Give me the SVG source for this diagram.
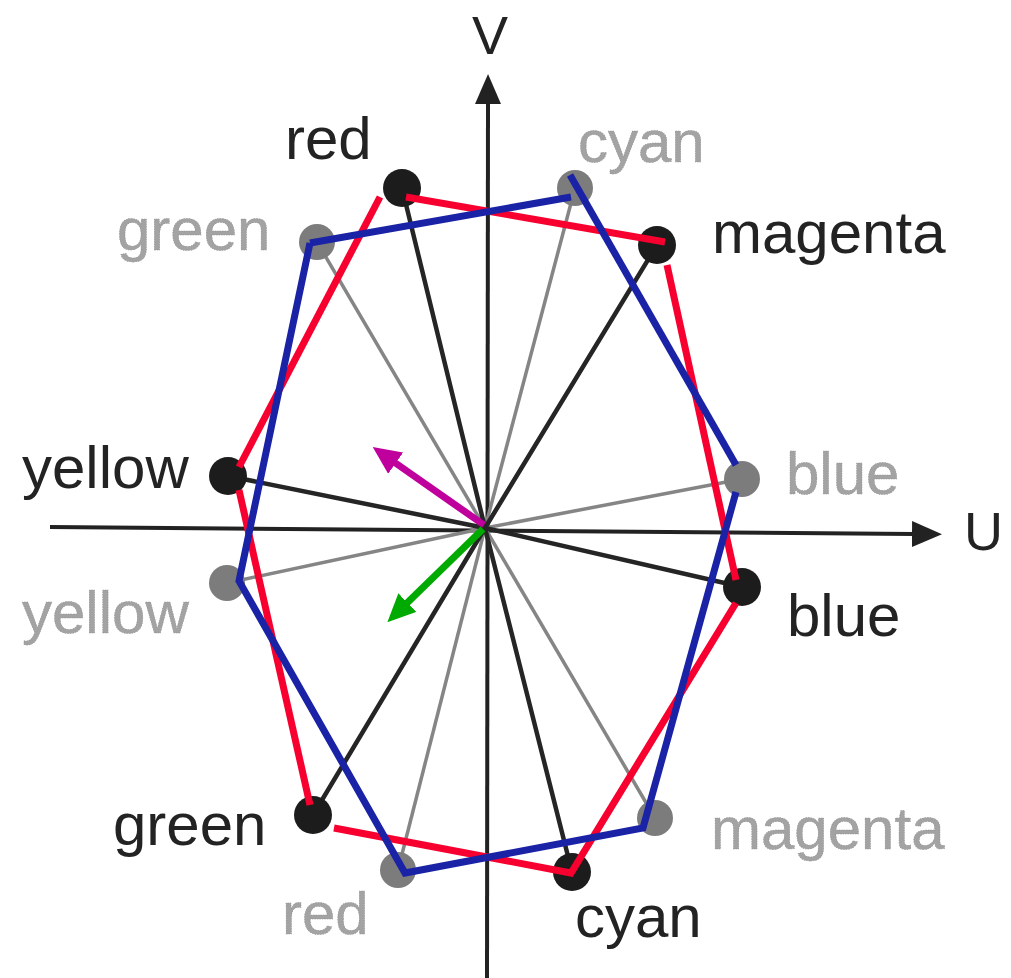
<svg xmlns="http://www.w3.org/2000/svg" width="1011" height="978" viewBox="0 0 1011 978">
<style>
.lbl{font-family:"Liberation Sans",Arial,sans-serif;font-size:60px;fill:#232323}
.glbl{font-family:"Liberation Sans",Arial,sans-serif;font-size:60px;fill:#a3a3a3;stroke:#8a8a8a;stroke-width:0.5;stroke-dasharray:1.5 1}
.axlbl{font-family:"Liberation Sans",Arial,sans-serif;font-size:54px;fill:#232323}
.axis{stroke:#222;stroke-width:4;fill:none}
.spk{stroke:#252525;stroke-width:4.5;stroke-linecap:round}
.gspk{stroke:#858585;stroke-width:3.5}
.bdot{fill:#1c1c1c}
.gdot{fill:#7c7c7c}
.rl{stroke:#f7002f;stroke-width:7;fill:none}
.bl{stroke:#1a22a6;stroke-width:7;fill:none;stroke-linejoin:miter}
</style>
<defs>
<marker id="axhead" markerUnits="userSpaceOnUse" markerWidth="30" markerHeight="26" refX="2" refY="13" orient="auto" viewBox="0 0 30 26">
<path d="M0,0 L30,13 L0,26 z" fill="#222"/>
</marker>
<marker id="mhead" markerUnits="userSpaceOnUse" markerWidth="28" markerHeight="26" refX="2" refY="13" orient="auto" viewBox="0 0 28 26">
<path d="M0,0 L28,13 L0,26 z" fill="#c0009c"/>
</marker>
<marker id="ghead" markerUnits="userSpaceOnUse" markerWidth="28" markerHeight="26" refX="2" refY="13" orient="auto" viewBox="0 0 28 26">
<path d="M0,0 L28,13 L0,26 z" fill="#00aa00"/>
</marker>
</defs>
<rect width="1011" height="978" fill="#fff"/>
<g id="axes">
<line class="axis" x1="487" y1="978" x2="488" y2="102" marker-end="url(#axhead)"/>
<line class="axis" x1="50" y1="527" x2="914" y2="534" marker-end="url(#axhead)"/>
<text class="axlbl" x="472" y="54">V</text>
<text class="axlbl" x="964" y="550">U</text>
</g>
<g id="connectors">
<line class="gspk" x1="485" y1="528" x2="575" y2="188"/>
<line class="gspk" x1="485" y1="528" x2="317" y2="242"/>
<line class="gspk" x1="485" y1="528" x2="742" y2="479"/>
<line class="gspk" x1="485" y1="528" x2="227" y2="583"/>
<line class="gspk" x1="485" y1="528" x2="655" y2="818"/>
<line class="gspk" x1="485" y1="528" x2="398" y2="870"/>
<line class="spk" x1="485" y1="528" x2="402" y2="188"/>
<line class="spk" x1="485" y1="528" x2="657" y2="245"/>
<line class="spk" x1="485" y1="528" x2="742" y2="587"/>
<line class="spk" x1="485" y1="528" x2="572" y2="872"/>
<line class="spk" x1="485" y1="528" x2="313" y2="815"/>
<line class="spk" x1="485" y1="528" x2="228" y2="476"/>
</g>
<g id="gray-nodes">
<g id="n-cyan-gray"><circle class="gdot" cx="575" cy="188" r="18"/><text class="glbl" x="578" y="162">cyan</text></g>
<g id="n-green-gray"><circle class="gdot" cx="317" cy="242" r="18"/><text class="glbl" x="117" y="250">green</text></g>
<g id="n-blue-gray"><circle class="gdot" cx="742" cy="479" r="18"/><text class="glbl" x="786" y="494">blue</text></g>
<g id="n-yellow-gray"><circle class="gdot" cx="227" cy="583" r="18"/><text class="glbl" x="22" y="633">yellow</text></g>
<g id="n-magenta-gray"><circle class="gdot" cx="655" cy="818" r="18"/><text class="glbl" x="711" y="849">magenta</text></g>
<g id="n-red-gray"><circle class="gdot" cx="398" cy="870" r="18"/><text class="glbl" x="282" y="934">red</text></g>
</g>
<g id="black-nodes">
<g id="n-red"><circle class="bdot" cx="402" cy="188" r="19"/><text class="lbl" x="285" y="159">red</text></g>
<g id="n-magenta"><circle class="bdot" cx="657" cy="245" r="19"/><text class="lbl" x="712" y="253">magenta</text></g>
<g id="n-blue"><circle class="bdot" cx="742" cy="587" r="19"/><text class="lbl" x="787" y="636">blue</text></g>
<g id="n-cyan"><circle class="bdot" cx="572" cy="872" r="19"/><text class="lbl" x="575" y="937">cyan</text></g>
<g id="n-green"><circle class="bdot" cx="313" cy="815" r="19"/><text class="lbl" x="113" y="845">green</text></g>
<g id="n-yellow"><circle class="bdot" cx="228" cy="476" r="19"/><text class="lbl" x="22" y="488">yellow</text></g>
</g>
<g id="red-polygon">
<line class="rl" x1="380" y1="197" x2="239" y2="467"/>
<line class="rl" x1="406" y1="197" x2="665" y2="242"/>
<line class="rl" x1="667" y1="265" x2="736" y2="580"/>
<polyline class="rl" points="736,603 571,873 334,828"/>
<line class="rl" x1="310" y1="805" x2="239" y2="490"/>
</g>
<g id="blue-polygon">
<line class="bl" x1="310" y1="243" x2="571" y2="197"/>
<line class="bl" x1="570" y1="175" x2="736" y2="465"/>
<polyline class="bl" points="736,492 643,828 405,873 239,581 310,243"/>
</g>
<g id="vectors">
<line x1="484" y1="525" x2="394" y2="462" stroke="#c0009c" stroke-width="7" marker-end="url(#mhead)"/>
<line x1="483" y1="529" x2="406" y2="604" stroke="#00aa00" stroke-width="7" marker-end="url(#ghead)"/>
</g>
</svg>
